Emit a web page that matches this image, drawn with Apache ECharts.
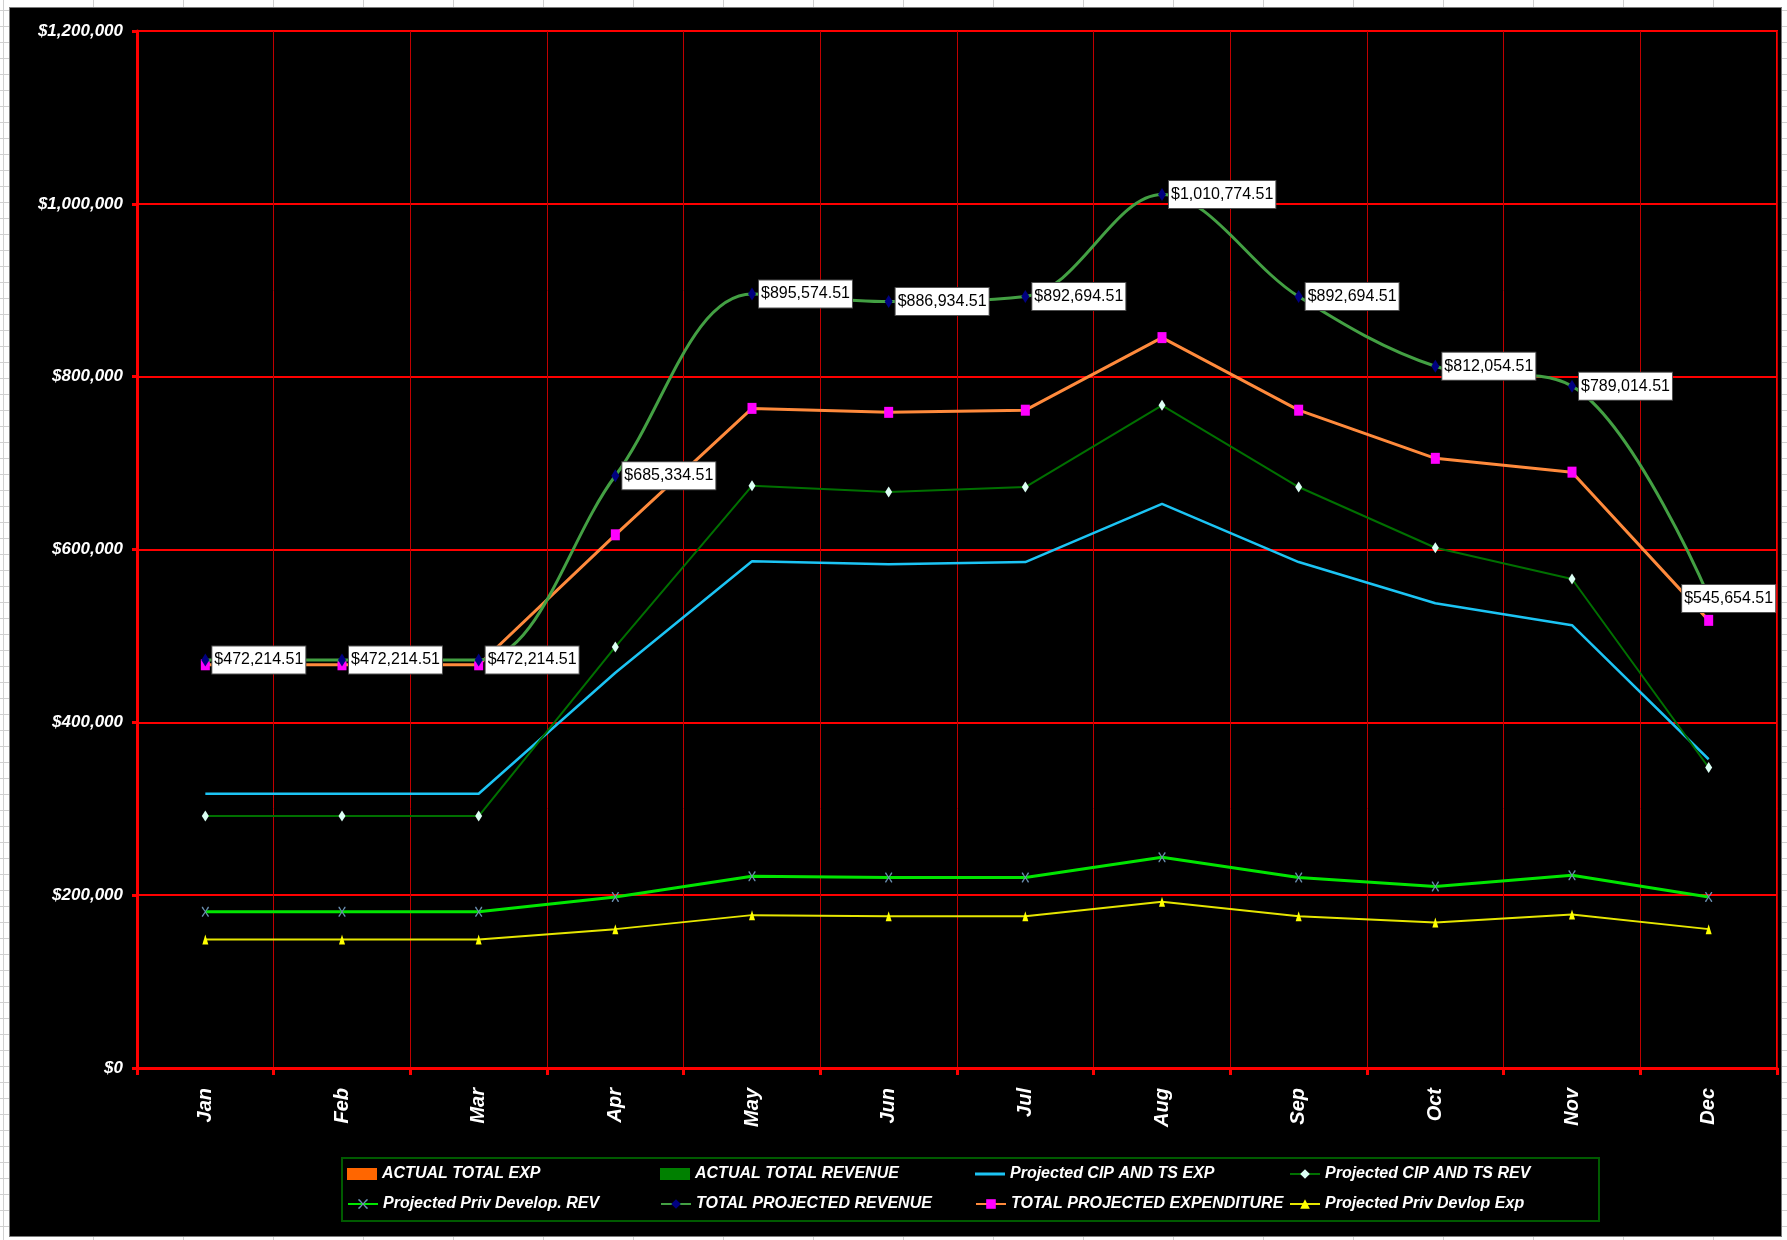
<!DOCTYPE html>
<html>
<head>
<meta charset="utf-8">
<title>Projected Revenue and Expenditure</title>
<script src="https://cdn.jsdelivr.net/npm/echarts@6/dist/echarts.min.js"></script>
<style>
  html, body { margin: 0; padding: 0; width: 1787px; height: 1240px; overflow: hidden; }
  body {
    background-color: #ffffff;
    background-image:
      linear-gradient(to bottom, #d0d0d0 1px, transparent 1px),
      linear-gradient(to right, #d0d0d0 1px, transparent 1px);
    background-size: 100% 16px, 90px 100%;
    background-position: 0 10px, 3px 0;
  }
  #chart {
    position: absolute; left: 10px; top: 8px; width: 1771px; height: 1228px;
    background: #000000; box-shadow: 0 0 0 1px #7a7a7a;
  }
</style>
</head>
<body>
<div id="chart"></div>
<script>
// ---- data ----
const months = ['Jan', 'Feb', 'Mar', 'Apr', 'May', 'Jun', 'Jul', 'Aug', 'Sep', 'Oct', 'Nov', 'Dec'];
const yTickLabels = ['$0', '$200,000', '$400,000', '$600,000', '$800,000', '$1,000,000', '$1,200,000'];

const actualTotalExp = [];
const actualTotalRevenue = [];
const cipTsExp   = [317400, 317400, 317400, 457400, 586400, 583000, 585500, 652900, 585500, 537800, 512400, 357300];
const cipTsRev   = [291500, 291500, 291500, 487300, 673700, 666500, 672300, 766900, 672300, 602000, 565900, 347700];
const privDevRev = [180700, 180700, 180700, 198000, 221900, 220400, 220400, 243900, 220400, 210000, 223100, 198000];
const totalProjRevenue = [472214.51, 472214.51, 472214.51, 685334.51, 895574.51, 886934.51,
                          892694.51, 1010774.51, 892694.51, 812054.51, 789014.51, 545654.51];
const totalProjExp = [466600, 466600, 466600, 617000, 763300, 758700, 761200, 845200, 761200, 705500, 689500, 518000];
const privDevExp = [148800, 148800, 148800, 160700, 176900, 175700, 175700, 192300, 175700, 168400, 177700, 160700];

const seriesNames = [
  'ACTUAL TOTAL EXP', 'ACTUAL TOTAL REVENUE', 'Projected CIP AND TS EXP', 'Projected CIP AND TS REV',
  'Projected Priv Develop. REV', 'TOTAL PROJECTED REVENUE', 'TOTAL PROJECTED EXPENDITURE', 'Projected Priv Devlop Exp'
];

// ---- helpers ----
function money(v, dec) {
  const parts = v.toFixed(dec).split('.');
  return '$' + parts[0].replace(/\B(?=(\d{3})+(?!\d))/g, ',') + (parts[1] ? '.' + parts[1] : '');
}

const FONT = "'Liberation Sans', Arial, sans-serif";
const crossPath = 'path://M0,0L1.5,0L5,4.2L8.5,0L10,0L10,1.2L5.8,5L10,8.8L10,10L8.5,10L5,5.8L1.5,10L0,10L0,8.8L4.2,5L0,1.2Z';

// legend: four columns, two rows, one legend block per entry
const legendCols = [337, 650, 965, 1279];
const legendRows = [1158, 1188];
const legends = seriesNames.map((name, i) => {
  let item = name;
  let itemHeight = 12;
  if (i < 2) item = { name: name, icon: 'rect' };
  if (i === 2) { item = { name: name, icon: 'rect' }; itemHeight = 3; }
  return {
    data: [item],
    left: legendCols[i % 4],
    top: legendRows[Math.floor(i / 4)],
    padding: 0,
    itemWidth: 30,
    itemHeight: itemHeight,
    itemGap: 0,
    selectedMode: false,
    textStyle: { color: '#ffffff', fontSize: 16, fontStyle: 'italic', fontWeight: 'bold', fontFamily: FONT }
  };
});

const revenueLabel = {
  show: true,
  position: 'right',
  distance: 3,
  formatter: p => money(p.value, 2),
  color: '#000000',
  fontSize: 16,
  fontFamily: FONT,
  backgroundColor: '#ffffff',
  borderColor: '#505050',
  borderWidth: 1,
  padding: [6, 2, 5, 2]
};

const option = {
  animation: false,
  backgroundColor: '#000000',
  grid: {
    left: 127, top: 23, width: 1640, height: 1037,
    show: true, borderColor: '#ff0000', borderWidth: 2, backgroundColor: 'transparent'
  },
  legend: legends,
  graphic: [{
    type: 'rect',
    shape: { x: 332, y: 1150, width: 1257, height: 63 },
    style: { fill: 'none', stroke: '#005a00', lineWidth: 2 },
    z: -1
  }],
  xAxis: {
    type: 'category',
    data: months,
    boundaryGap: true,
    axisLine: { show: true, lineStyle: { color: '#ff0000', width: 3 } },
    axisTick: { show: true, alignWithLabel: false, length: 7, lineStyle: { color: '#ff0000', width: 3 } },
    splitLine: { show: true, lineStyle: { color: '#c00000', width: 1 } },
    axisLabel: {
      rotate: 90, margin: 20, color: '#ffffff', fontSize: 20,
      fontStyle: 'italic', fontWeight: 'bold', fontFamily: FONT
    }
  },
  yAxis: {
    type: 'value',
    min: 0, max: 1200000, interval: 200000,
    axisLine: { show: true, lineStyle: { color: '#ff0000', width: 3 } },
    axisTick: { show: true, length: 5, lineStyle: { color: '#ff0000', width: 3 } },
    splitLine: { show: true, lineStyle: { color: '#ff0000', width: 2 } },
    axisLabel: {
      margin: 14, color: '#ffffff', fontSize: 17,
      fontStyle: 'italic', fontWeight: 'bold', fontFamily: FONT,
      formatter: v => yTickLabels[Math.round(v / 200000)]
    }
  },
  series: [
    { name: seriesNames[0], type: 'bar', data: actualTotalExp, itemStyle: { color: '#ff6600' } },
    { name: seriesNames[1], type: 'bar', data: actualTotalRevenue, itemStyle: { color: '#008000' } },
    {
      name: seriesNames[2], type: 'line', data: cipTsExp, symbol: 'none',
      lineStyle: { color: '#1cc4f4', width: 2.5 }, itemStyle: { color: '#1cc4f4' }
    },
    {
      name: seriesNames[3], type: 'line', data: cipTsRev, symbol: 'diamond', symbolSize: [7, 11],
      lineStyle: { color: '#007000', width: 2 }, itemStyle: { color: '#dcfff4' }
    },
    {
      name: seriesNames[4], type: 'line', data: privDevRev, symbol: crossPath, symbolSize: [7, 10],
      lineStyle: { color: '#00e600', width: 3 }, itemStyle: { color: '#6a8fb0' }
    },
    {
      name: seriesNames[5], type: 'line', data: totalProjRevenue.map((v, i) =>
        i === totalProjRevenue.length - 1 ? { value: v, label: { position: 'inside', offset: [20, 2] } } : v),
      smooth: 0.35, symbol: 'diamond', symbolSize: [8, 13],
      lineStyle: { color: '#43a043', width: 3 }, itemStyle: { color: '#000080' },
      label: revenueLabel, z: 3
    },
    {
      name: seriesNames[6], type: 'line', data: totalProjExp, symbol: 'rect', symbolSize: [9, 11],
      lineStyle: { color: '#ff8a3c', width: 3 }, itemStyle: { color: '#ff00ff' }, z: 2
    },
    {
      name: seriesNames[7], type: 'line', data: privDevExp, symbol: 'triangle', symbolSize: [6, 10],
      lineStyle: { color: '#e6e600', width: 2 }, itemStyle: { color: '#ffff00' }
    }
  ]
};

const chart = echarts.init(document.getElementById('chart'), null, { renderer: 'canvas' });
chart.setOption(option);
</script>
</body>
</html>
